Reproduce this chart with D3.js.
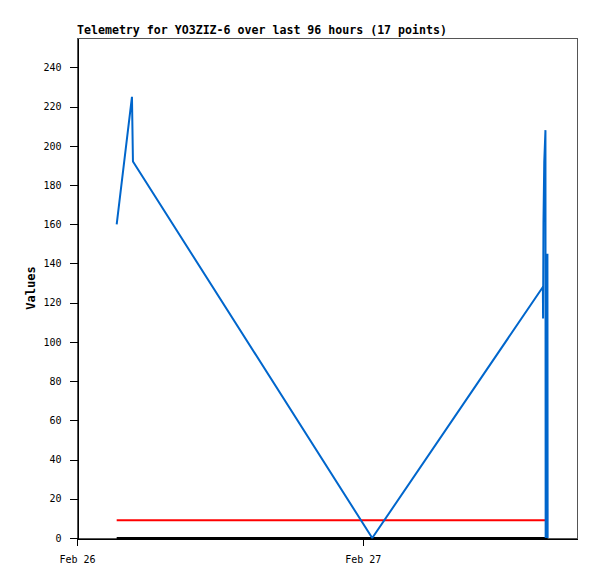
<!DOCTYPE html>
<html>
<head>
<meta charset="utf-8">
<script src="https://cdn.jsdelivr.net/npm/d3@7"></script>
<style>
  html, body { margin: 0; padding: 0; background: #fff; }
  svg { display: block; }
</style>
</head>
<body>
<div id="chart"></div>
<script>
const titleText = "Telemetry for YO3ZIZ-6 over last 96 hours (17 points)";
const yLabel = "Values";
const times = [
  "2024-02-26 03:20", "2024-02-26 04:37", "2024-02-26 04:42", "2024-02-27 00:48",
  "2024-02-27 15:08", "2024-02-27 15:09", "2024-02-27 15:11", "2024-02-27 15:15",
  "2024-02-27 15:21", "2024-02-27 15:22", "2024-02-27 15:31", "2024-02-27 15:32"
];
const blueValues  = [160, 225, 192, 0, 128, 112, 161, 192, 208, 0, 145, 0];
const redValues   = [9, 9, 9, 9, 9, 9, 9, 9, 9, 9, 9, 9];
const blackValues = [0, 0, 0, 0, 0, 0, 0, 0, 0, 0, 0, 0];
const yTicks = [0, 20, 40, 60, 80, 100, 120, 140, 160, 180, 200, 220, 240];
const xTickDates = ["2024-02-26 00:00", "2024-02-27 00:00"];
const xDomain = ["2024-02-26 00:00", "2024-02-27 18:00"];
const yDomain = [0, 255];

const W = 597, H = 579;
const m = { left: 77, top: 38, right: 20, bottom: 41 };
const pw = 500, ph = 500;
const parse = d3.timeParse("%Y-%m-%d %H:%M");

const svg = d3.select("#chart").append("svg").attr("width", W).attr("height", H);
const g = svg.append("g").attr("transform", `translate(${m.left},${m.top})`);

const x = d3.scaleTime().domain(xDomain.map(parse)).range([0, pw]);
const y = d3.scaleLinear().domain(yDomain).range([ph, 0]);

// frame
g.append("rect").attr("x", 0.5).attr("y", 0.5).attr("width", pw).attr("height", ph)
  .attr("fill", "none").attr("stroke", "#555").attr("stroke-width", 1)
  .attr("shape-rendering", "crispEdges");

const mono = "'DejaVu Sans Mono', 'Liberation Mono', monospace";

// y axis
const yAxis = g.append("g").attr("transform", "translate(0.5,0)")
  .call(d3.axisLeft(y).tickValues(yTicks).tickSize(8).tickPadding(8).tickSizeOuter(0));
yAxis.select(".domain").attr("stroke", "#000").attr("shape-rendering", "crispEdges");
yAxis.selectAll(".tick line").attr("stroke", "#000").attr("shape-rendering", "crispEdges");
yAxis.selectAll(".tick text").attr("font-family", mono).attr("font-size", "10px").attr("fill", "#000");

// x axis
const xAxis = g.append("g").attr("transform", `translate(0,${ph + 0.5})`)
  .call(d3.axisBottom(x).tickValues(xTickDates.map(parse)).tickFormat(d3.timeFormat("%b %d"))
    .tickSize(7).tickPadding(10).tickSizeOuter(0));
xAxis.select(".domain").attr("stroke", "#000").attr("shape-rendering", "crispEdges");
xAxis.selectAll(".tick line").attr("stroke", "#000").attr("shape-rendering", "crispEdges");
xAxis.selectAll(".tick text").attr("font-family", mono).attr("font-size", "10px").attr("fill", "#000");

const mk = vals => times.map((t, i) => ({ t: parse(t), v: vals[i] }));
const line = d3.line().x(d => x(d.t)).y(d => y(d.v));

g.append("path").datum(mk(redValues)).attr("d", line)
  .attr("fill", "none").attr("stroke", "#ff0000").attr("stroke-width", 2);
g.append("path").datum(mk(blackValues)).attr("d", line)
  .attr("fill", "none").attr("stroke", "#000").attr("stroke-width", 2);
g.append("path").datum(mk(blueValues)).attr("d", line)
  .attr("fill", "none").attr("stroke", "#0066cc").attr("stroke-width", 2)
  .attr("stroke-linejoin", "miter").attr("stroke-miterlimit", 1);

// title
svg.append("text").attr("x", m.left).attr("y", 34)
  .attr("font-family", mono).attr("font-weight", "bold").attr("font-size", "11.6px")
  .attr("fill", "#000").text(titleText);

// y label
svg.append("text").attr("transform", `translate(35,${m.top + ph / 2}) rotate(-90)`)
  .attr("text-anchor", "middle")
  .attr("font-family", mono).attr("font-weight", "bold").attr("font-size", "12px")
  .attr("fill", "#000").text(yLabel);
</script>
</body>
</html>
